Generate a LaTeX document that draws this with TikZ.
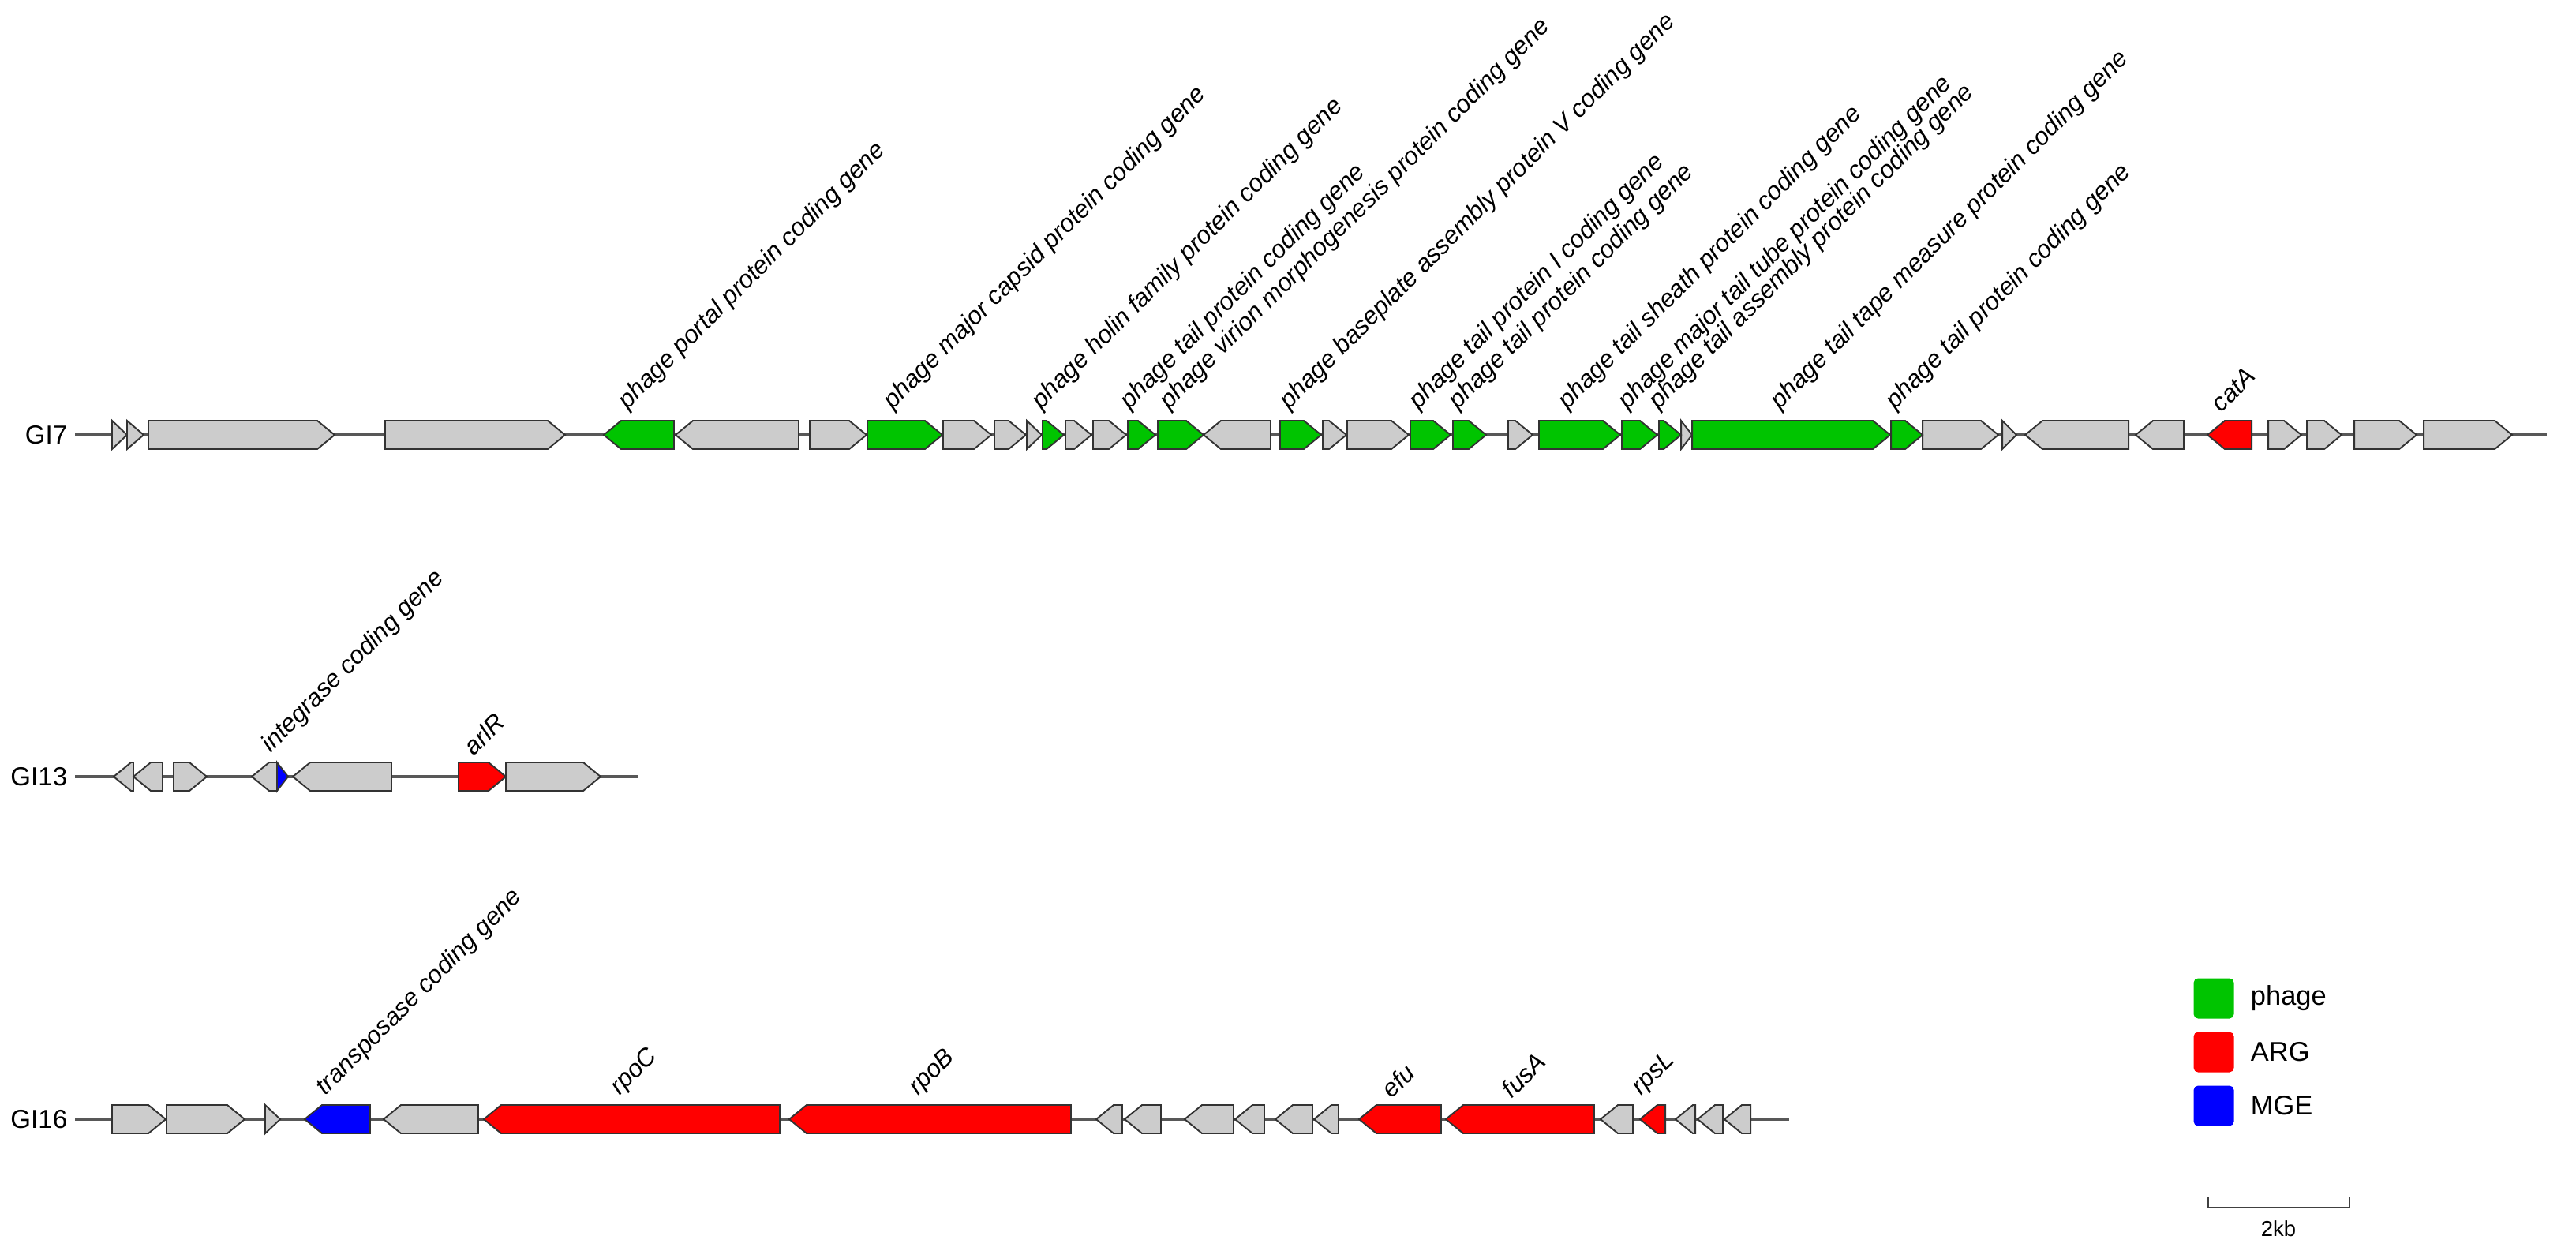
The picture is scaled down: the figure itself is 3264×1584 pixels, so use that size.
\documentclass[tikz,border=0pt]{standalone}
\usepackage{fontspec}
\setmainfont{Liberation Sans}
\usepackage{tikz}
\usetikzlibrary{positioning}
\definecolor{phagegreen}{RGB}{0,196,0}
\definecolor{argred}{RGB}{255,0,0}
\definecolor{mgeblue}{RGB}{0,0,255}
\definecolor{othergray}{RGB}{204,204,204}
\definecolor{linegray}{RGB}{88,88,88}
\tikzset{every picture/.style={x=0.01cm, y=-0.01cm}}
\tikzset{gene/.style={draw=black!80, line width=0.55pt, line join=miter}}
\tikzset{backbone/.style={draw=linegray, line width=1.2pt}}
\tikzset{genelab/.style={anchor=south west, rotate=45, inner sep=0pt, font=\fontsize{9.0}{11}\selectfont\itshape}}
\tikzset{rowlab/.style={inner sep=0pt, font=\fontsize{9.4}{11}\selectfont}}
\tikzset{legbox/.style={minimum size=0.51cm, rounded corners=1.6pt, inner sep=0pt}}
\tikzset{legtext/.style={inner sep=0pt, font=\fontsize{9.8}{11}\selectfont}}
\newcommand{\drawgenes}[3]{%
\foreach \xs/\xt in {#3} {
\pgfmathsetmacro{\hd}{min(22,abs(\xt-\xs))}
\pgfmathsetmacro{\xh}{\xt-sign(\xt-\xs)*\hd}
\draw[gene, fill=#2] (\xs,#1-18) -- (\xh,#1-18) -- (\xt,#1) -- (\xh,#1+18) -- (\xs,#1+18) -- cycle;
}}

\begin{document}
\begin{tikzpicture}
\fill[white] (0,0) rectangle (3264,1584);
\useasboundingbox (0,0) rectangle (3264,1584);
\coordinate (gi7s) at (95,551);
\coordinate (gi7e) at (3227,551);
\coordinate (gi13s) at (95,984);
\coordinate (gi13e) at (809,984);
\coordinate (gi16s) at (95,1418);
\coordinate (gi16e) at (2267,1418);
\draw[backbone] (gi7s) -- (gi7e);
\draw[backbone] (gi13s) -- (gi13e);
\draw[backbone] (gi16s) -- (gi16e);
\node[rowlab, left=2.6pt of gi7s] (gi7) {GI7};
\node[rowlab, left=2.6pt of gi13s] (gi13) {GI13};
\node[rowlab, left=2.6pt of gi16s] (gi16) {GI16};

\drawgenes{551}{othergray}{142/161, 161/182, 188/424, 488/716, 1012/856, 1026/1098, 1195/1256, 1260/1300, 1301/1320, 1350/1383, 1385/1427, 1610/1525, 1676/1706, 1707/1785, 1911/1942, 2130/2144, 2436/2532, 2537/2555, 2697/2566, 2767/2706, 2874/2916, 2923/2967, 2983/3062, 3071/3183}
\drawgenes{551}{phagegreen}{854/765, 1099/1194, 1321/1348, 1429/1464, 1467/1525, 1622/1674, 1787/1838, 1841/1883, 1950/2053, 2055/2100, 2102/2130, 2144/2395, 2396/2436}
\drawgenes{551}{argred}{2853/2797}

\drawgenes{984}{othergray}{169/144, 206/169, 220/262, 351/319, 496/371, 641/761}
\drawgenes{984}{mgeblue}{351/365}
\drawgenes{984}{argred}{581/641}

\drawgenes{1418}{othergray}{142/210, 211/310, 336/355, 606/486, 1422/1389, 1471/1425, 1563/1501, 1602/1565, 1663/1616, 1696/1665, 2069/2028, 2148/2123, 2183/2151, 2218/2185}
\drawgenes{1418}{mgeblue}{469/386}
\drawgenes{1418}{argred}{988/613, 1357/1000, 1826/1722, 2020/1832, 2110/2078}

\foreach \x/\t [count=\i] in {810/phage portal protein coding gene, 1146/phage major capsid protein coding gene, 1334/phage holin family protein coding gene, 1446/phage tail protein coding gene, 1496/phage virion morphogenesis protein coding gene, 1648/phage baseplate assembly protein V coding gene, 1812/phage tail protein I coding gene, 1862/phage tail protein coding gene, 2001/phage tail sheath protein coding gene, 2077/phage major tail tube protein coding gene, 2116/phage tail assembly protein coding gene, 2270/phage tail tape measure protein coding gene, 2416/phage tail protein coding gene, 2825/catA}
\node[genelab] (gi7l\i) at (\x-10,525) {\t};
\foreach \x/\t [count=\i] in {358/integrase coding gene, 611/arlR}
\node[genelab] (gi13l\i) at (\x-10,960) {\t};
\foreach \x/\t [count=\i] in {427/transposase coding gene, 800/rpoC, 1178/rpoB, 1774/efu, 1926/fusA, 2094/rpsL}
\node[genelab] (gi16l\i) at (\x-10,1394) {\t};

\node[legbox, fill=phagegreen] (legphage) at (2805,1265) {};
\node[legbox, fill=argred] (legarg) at (2805,1333) {};
\node[legbox, fill=mgeblue] (legmge) at (2805,1401) {};
\node[legtext, right=0.2cm of legphage] (txtphage) {phage};
\node[legtext, right=0.2cm of legarg] (txtarg) {ARG};
\node[legtext, right=0.2cm of legmge] (txtmge) {MGE};

\coordinate (sbl) at (2798,1530);
\coordinate (sbr) at (2977,1530);
\draw[draw=black!75, line width=0.8pt] (sbl) ++(0,-13) -- (sbl) -- (sbr) -- ++(0,-13);
\node[inner sep=0pt, font=\fontsize{7.8}{9}\selectfont] (sbtxt) at (2887,1557) {2kb};
\end{tikzpicture}
\end{document}
